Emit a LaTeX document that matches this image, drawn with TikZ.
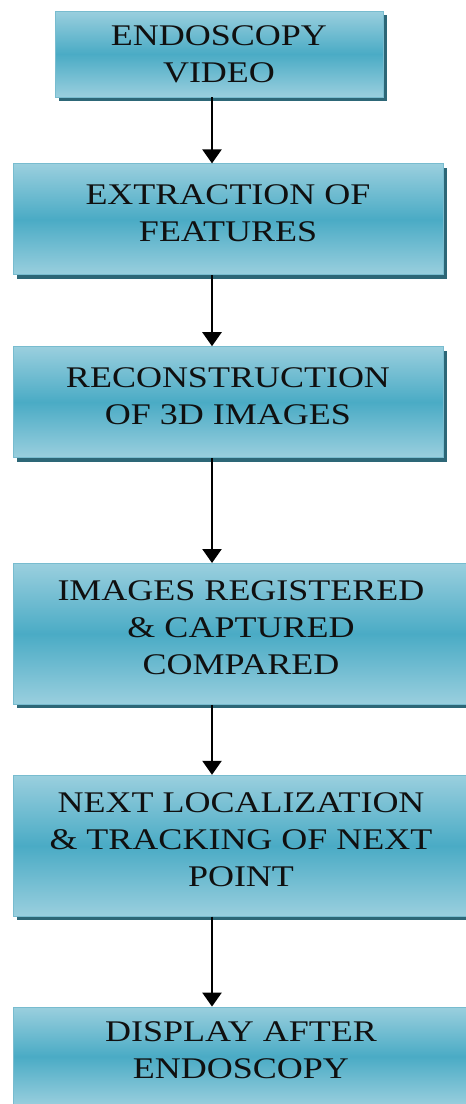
\documentclass[tikz,border=0pt]{standalone}
\usepackage{fontspec}
\newfontfamily\endofont[FakeStretch=1.2]{Liberation Serif}
\usetikzlibrary{arrows.meta,positioning,shadows}
\definecolor{EndoEdge}{HTML}{9ACFDE}
\definecolor{EndoMid}{HTML}{4AABC5}
\definecolor{EndoBorder}{HTML}{78BCCF}
\definecolor{EndoShadow}{HTML}{2D6777}
\definecolor{EndoInk}{HTML}{101010}
\tikzset{
  endo box/.style={
    draw=EndoBorder,
    line width=0.8pt,
    top color=EndoEdge,
    bottom color=EndoEdge,
    middle color=EndoMid,
    text=EndoInk,
    align=center,
    inner sep=0pt,
    text depth=12pt,
    font=\endofont\fontsize{30}{37}\selectfont,
    drop shadow={shadow xshift=4pt,shadow yshift=-4pt,fill=EndoShadow,opacity=1}
  },
  endo flow/.style={-{Triangle[width=19pt,length=14pt]},draw=black,line width=2.4pt}
}
\begin{document}
\begin{tikzpicture}[x=1pt,y=1pt]
  \useasboundingbox (0,0) rectangle (466,-1104);
  \node[endo box,text depth=0pt,minimum width=328pt,minimum height=86pt] (video) at (219,-54) {ENDOSCOPY\\VIDEO};
  \node[endo box,minimum width=430pt,minimum height=111pt,below=66pt of video,xshift=9pt] (features) {EXTRACTION OF\\FEATURES};
  \node[endo box,minimum width=430pt,minimum height=111pt,below=71pt of features] (recon) {RECONSTRUCTION\\OF 3D IMAGES};
  \node[endo box,minimum width=456pt,minimum height=141pt,below=105pt of recon,xshift=13pt] (register) {IMAGES REGISTERED\\\& CAPTURED\\COMPARED};
  \node[endo box,minimum width=456pt,minimum height=141pt,below=70pt of register] (tracking) {NEXT LOCALIZATION\\\& TRACKING OF NEXT\\POINT};
  \node[endo box,minimum width=456pt,minimum height=99pt,below=90pt of tracking] (display) {DISPLAY AFTER\\ENDOSCOPY};

  % all arrows run down one vertical line
  \coordinate (spine) at (212,0);
  \draw[endo flow] (video.south -| spine) -- (features.north -| spine);
  \draw[endo flow] (features.south -| spine) -- (recon.north -| spine);
  \draw[endo flow] (recon.south -| spine) -- (register.north -| spine);
  \draw[endo flow] (register.south -| spine) -- (tracking.north -| spine);
  \draw[endo flow] (tracking.south -| spine) -- (display.north -| spine);
\end{tikzpicture}
\end{document}
